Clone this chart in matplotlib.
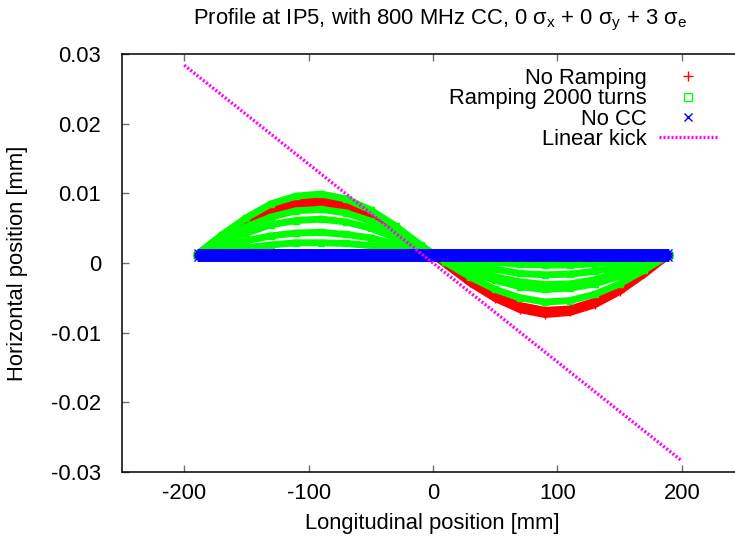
import numpy as np
import matplotlib
matplotlib.use('Agg')
import matplotlib.pyplot as plt

plt.rcParams['font.family'] = ['Liberation Sans', 'DejaVu Sans']
plt.rcParams['mathtext.fontset'] = 'custom'
plt.rcParams['mathtext.rm'] = 'Liberation Sans'
plt.rcParams['mathtext.it'] = 'Liberation Sans'
plt.rcParams['axes.unicode_minus'] = False

# longitudinal sample positions [mm]
z = [-190, -170, -150, -130, -110, -90, -70, -50, -30, -10,
     10, 30, 50, 70, 90, 110, 130, 150, 170, 190]

# horizontal position, in units of 1e-3 mm
# no ramping (red)
red_a = [1.2, 3.6, 5.7, 7.4, 8.4, 8.6, 8.0, 6.6, 4.7, 2.4,
         -0.1, -2.6, -4.7, -6.1, -6.8, -6.6, -5.5, -3.7, -1.4, 1.2]
red_b = [1.2, 3.7, 6.0, 7.7, 8.8, 9.0, 8.3, 6.9, 4.9, 2.5,
         -0.2, -2.9, -5.1, -6.7, -7.4, -7.1, -6.0, -4.1, -1.6, 1.2]
# ramping 2000 turns (green)
green_1 = [1.2, 4.0, 6.5, 8.5, 9.6, 9.9, 9.2, 7.6, 5.3, 2.6,
           0.1, -2.0, -3.8, -5.0, -5.6, -5.4, -4.5, -3.0, -1.0, 1.2]
green_2 = [1.2, 3.3, 5.2, 6.6, 7.5, 7.7, 7.2, 6.0, 4.3, 2.3,
           0.4, -1.2, -2.5, -3.4, -3.8, -3.6, -3.0, -1.9, -0.4, 1.2]
green_3 = [1.2, 2.9, 4.3, 5.5, 6.1, 6.3, 5.9, 5.0, 3.6, 2.0,
           0.5, -0.8, -2.0, -2.7, -3.1, -3.0, -2.4, -1.4, -0.2, 1.2]
green_4 = [1.2, 2.2, 3.2, 3.9, 4.3, 4.4, 4.1, 3.6, 2.7, 1.7,
           0.7, -0.2, -0.9, -1.5, -1.7, -1.6, -1.2, -0.6, 0.3, 1.2]
green_5 = [1.2, 1.8, 2.2, 2.6, 2.9, 2.9, 2.8, 2.5, 2.0, 1.5,
           1.0, 0.5, 0.1, -0.2, -0.3, -0.3, -0.1, 0.3, 0.7, 1.2]
# no crab cavity (blue)
blue_1 = [1.6, 1.6, 1.6, 1.6, 1.6, 1.6, 1.6, 1.6, 1.6, 1.6,
          1.6, 1.6, 1.6, 1.6, 1.6, 1.6, 1.6, 1.6, 1.6, 1.6]
blue_2 = [1.1, 1.1, 1.1, 1.1, 1.1, 1.1, 1.1, 1.1, 1.1, 1.1,
          1.1, 1.1, 1.1, 1.1, 1.1, 1.1, 1.1, 1.1, 1.1, 1.1]
blue_3 = [0.7, 0.7, 0.7, 0.7, 0.7, 0.7, 0.7, 0.7, 0.7, 0.7,
          0.7, 0.7, 0.7, 0.7, 0.7, 0.7, 0.7, 0.7, 0.7, 0.7]

# linear kick
kick_z = [-200, 200]
kick_x = [0.0284, -0.0284]

fs = 15.8

fig = plt.figure(figsize=(7.35, 5.41), dpi=100)
ax = fig.add_axes([122/735, 1 - 472/541, 622/735, 418/541])

for vals in [red_a, red_b]:
    ax.plot(z, np.array(vals) * 1e-3, color='#ff0000', lw=5,
            solid_capstyle='butt', marker='+', ms=6, mew=1)
for vals in [green_1, green_2, green_3, green_4, green_5]:
    ax.plot(z, np.array(vals) * 1e-3, color='#00ff00', lw=5,
            solid_capstyle='butt', marker='s', ms=5, mew=1, fillstyle='none')
for vals in [blue_1, blue_2, blue_3]:
    ax.plot(z, np.array(vals) * 1e-3, color='#0000ff', lw=5,
            solid_capstyle='butt', marker='x', ms=5, mew=1)
ax.plot(kick_z, kick_x, color='#ff00ff', lw=2.4, ls=(0, (0.6, 0.6)))

# legend entries
h1, = ax.plot([], [], ls='none', marker='+', color='#ff0000', ms=7, mew=1)
h2, = ax.plot([], [], ls='none', marker='s', color='#00ff00', ms=6, mew=1,
              fillstyle='none')
h3, = ax.plot([], [], ls='none', marker='x', color='#0000ff', ms=6, mew=1)
h4, = ax.plot([], [], color='#ff00ff', lw=2.4, ls=(0, (0.6, 0.6)))
leg = ax.legend([h1, h2, h3, h4],
                ['No Ramping', 'Ramping 2000 turns', 'No CC', 'Linear kick'],
                loc='upper right', bbox_to_anchor=(729/735, 1 - 57/541),
                bbox_transform=fig.transFigure, frameon=False,
                markerfirst=False, fontsize=fs, borderpad=0,
                handlelength=2.7, handletextpad=0.55, labelspacing=-0.03)

ax.set_xlim(-250, 250)
ax.set_ylim(-0.03, 0.03)
ax.set_xticks([-200, -100, 0, 100, 200])
ax.set_yticks([-0.03, -0.02, -0.01, 0, 0.01, 0.02, 0.03])
ax.yaxis.set_major_formatter(matplotlib.ticker.FuncFormatter(lambda v, p: '%g' % v))
ax.tick_params(direction='in', length=5, width=1, color='#707070',
               top=True, right=True, labelsize=fs)
ax.tick_params(axis='y', pad=15)
ax.tick_params(axis='x', pad=8)
for s in ax.spines.values():
    s.set_linewidth(1.1)

fig.text(440/735, 1 - 20/541,
         r'Profile at IP5, with 800 MHz CC, 0 $\sigma_x$ + 0 $\sigma_y$ + 3 $\sigma_e$',
         ha='center', va='center', fontsize=fs)
fig.text(432/735, 1 - 523/541, 'Longitudinal position [mm]',
         ha='center', va='center', fontsize=fs)
fig.text(18/735, 1 - 263/541, 'Horizontal position [mm]', rotation=90,
         ha='center', va='center', fontsize=fs)

fig.savefig('out.png', dpi=100)
